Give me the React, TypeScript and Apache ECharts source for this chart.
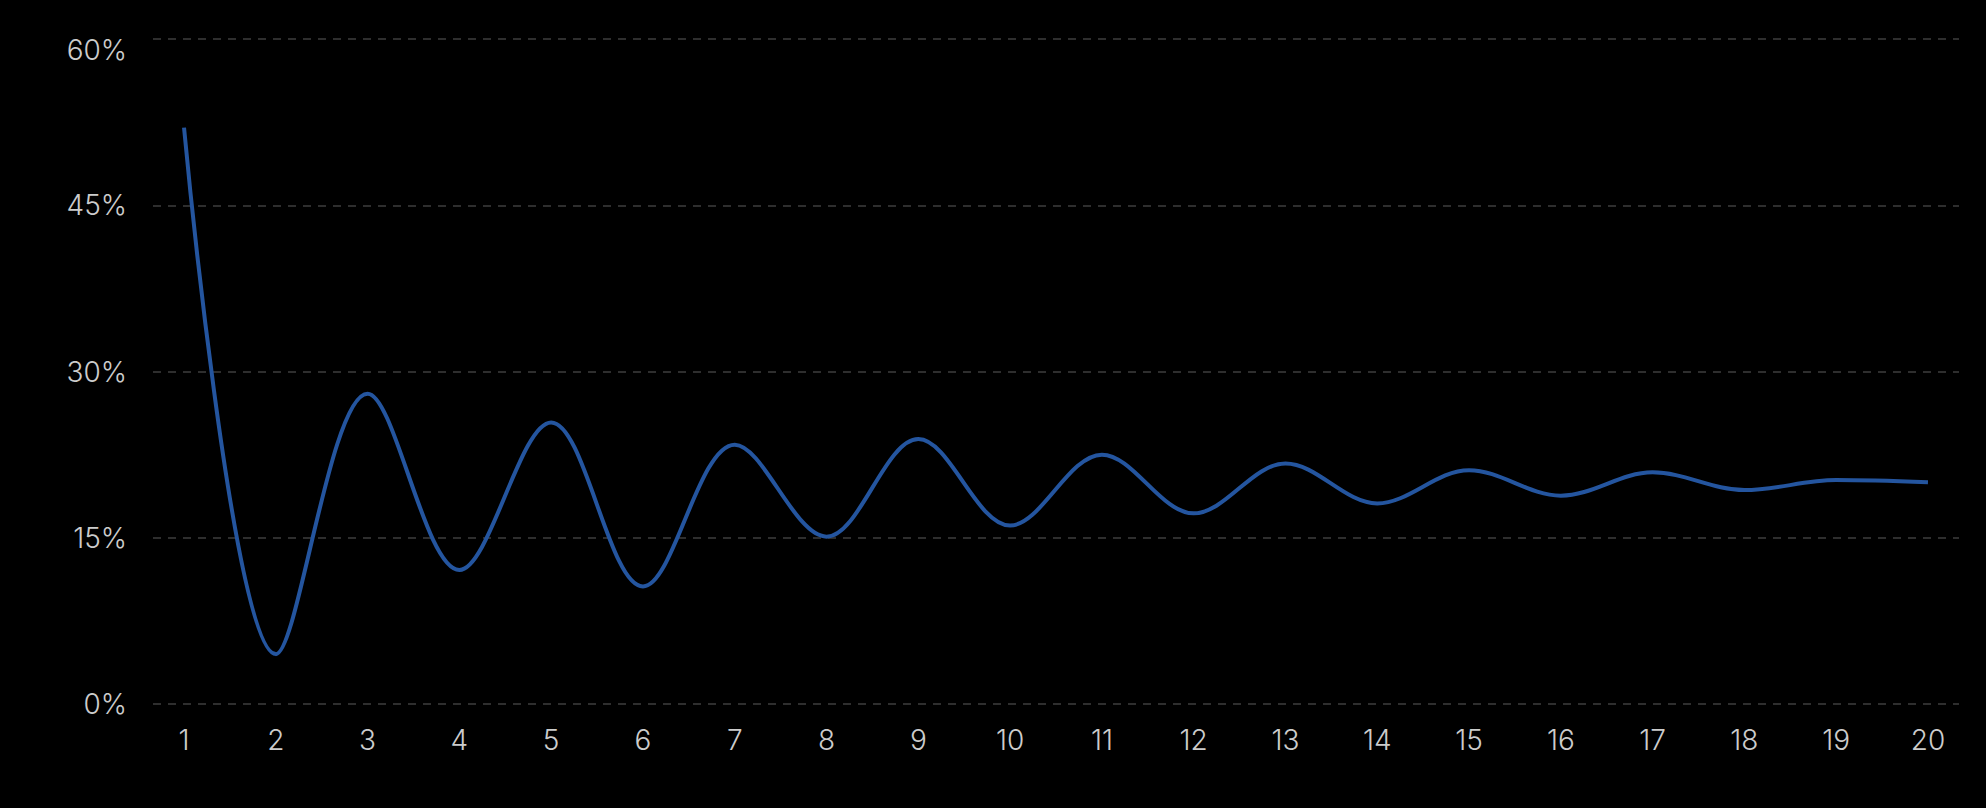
import { useRef, useEffect } from "react";
import * as echarts from "echarts";

// x positions (1..20) and the curve values in percent
const steps = [1, 2, 3, 4, 5, 6, 7, 8, 9, 10, 11, 12, 13, 14, 15, 16, 17, 18, 19, 20];
const rates = [52.0, 4.5, 28.0, 12.1, 25.4, 10.6, 23.4, 15.1, 23.9, 16.1, 22.5, 17.2, 21.7, 18.1, 21.1, 18.8, 20.9, 19.3, 20.2, 20.0];
const yTicks = [0, 15, 30, 45, 60];

const pad = 0.338; // room left/right of the first and last step

const option = {
  animation: false,
  backgroundColor: "#000",
  textStyle: { fontFamily: "Inter, 'Noto Sans', sans-serif" },
  grid: { left: 153, right: 27, top: 39, bottom: 104 },
  xAxis: {
    type: "value",
    min: steps[0] - pad,
    max: steps[steps.length - 1] + pad,
    axisLine: { show: false },
    axisTick: { show: false },
    splitLine: { show: false },
    axisLabel: {
      customValues: steps,
      color: "#cccccc",
      fontSize: 28,
      fontWeight: 300,
      margin: 22,
    },
  },
  yAxis: {
    type: "value",
    min: yTicks[0],
    max: yTicks[yTicks.length - 1],
    interval: 15,
    axisLine: { show: false },
    axisTick: { show: false },
    axisLabel: {
      color: "#cccccc",
      fontSize: 28,
      fontWeight: 300,
      margin: 26,
      // top label sits below its grid line
      formatter: (v: number) => (v === yTicks[yTicks.length - 1] ? `{top|${v}%}` : `${v}%`),
      rich: {
        top: { color: "#cccccc", fontSize: 28, fontWeight: 300, padding: [22, 0, 0, 0] },
      },
    },
    splitLine: {
      lineStyle: { color: "#2e2e2e", width: 2, type: [8, 7] },
    },
  },
  series: [
    {
      type: "line",
      data: steps.map((s, i) => [s, rates[i]]),
      smooth: 0.35,
      symbol: "none",
      lineStyle: { color: "#24559f", width: 4 },
    },
  ],
};

const App = () => {
  const chartRef = useRef<HTMLDivElement>(null);

  useEffect(() => {
    document.body.style.margin = "0";
    document.body.style.background = "#000";
    const myChart = echarts.init(chartRef.current, null, { renderer: "svg" });
    myChart.setOption(option);
    return () => {
      myChart.dispose();
    };
  }, []);

  return <div ref={chartRef} style={{ width: "1986px", height: "808px" }}></div>;
};

export default App;
